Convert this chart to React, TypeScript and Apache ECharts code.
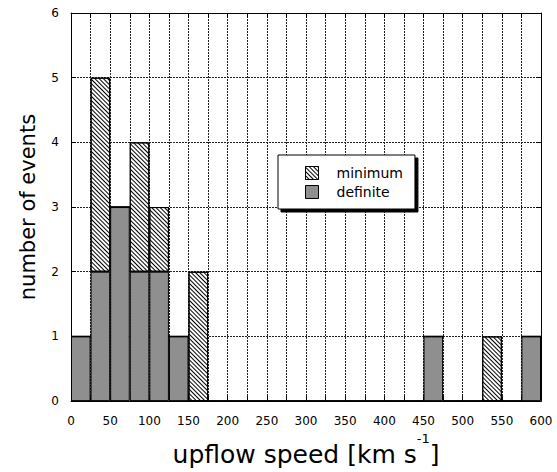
import React, { useEffect, useRef } from "react";
import * as echarts from "echarts";

// bins of 25 km/s, lower edges
const binStarts = [0, 25, 50, 75, 100, 125, 150, 175, 200, 225, 250, 275, 300, 325, 350, 375, 400, 425, 450, 475, 500, 525, 550, 575];
// definite events per bin
const definite = [1, 2, 3, 2, 2, 1, 0, 0, 0, 0, 0, 0, 0, 0, 0, 0, 0, 0, 1, 0, 0, 0, 0, 1];
// additional "minimum" events stacked on top of definite
const minimumExtra = [0, 3, 0, 2, 1, 0, 2, 0, 0, 0, 0, 0, 0, 0, 0, 0, 0, 0, 0, 0, 0, 1, 0, 0];
const seriesNames = ["minimum", "definite"];
const xRange = [0, 600];
const yRange = [0, 6];

const FONT = "DejaVu Sans";

export default function App() {
  const ref = useRef<HTMLDivElement>(null);
  useEffect(() => {
    if (!ref.current) return;
    const chart = echarts.init(ref.current, null, { renderer: "svg" });
    const gridLine = { show: true, lineStyle: { color: "#222", width: 1, type: [2, 1] as any } };
    const axisLine = { show: true, onZero: false, lineStyle: { color: "#000", width: 1 } };
    const tick = { show: true, inside: true, length: 5, lineStyle: { color: "#000" } };
    const minorTick = { show: true, splitNumber: 2, length: 5, lineStyle: { color: "#000" } };
    const option: any = {
      animation: false,
      backgroundColor: "#fff",
      grid: { left: 71, right: 16, top: 13, bottom: 64, containLabel: false },
      legend: {
        orient: "vertical",
        left: 278,
        top: 155,
        data: seriesNames,
        icon: "rect",
        itemWidth: 13,
        itemHeight: 13,
        itemGap: 5,
        padding: [11, 12, 10, 27],
        backgroundColor: "#fff",
        borderColor: "#000",
        borderWidth: 1,
        shadowColor: "#000",
        shadowBlur: 0,
        shadowOffsetX: 3,
        shadowOffsetY: 3,
        selectedMode: false,
        itemStyle: { borderColor: "#000", borderWidth: 1 },
        textStyle: { fontSize: 14, color: "#000", fontFamily: FONT, padding: [0, 0, 0, 13] },
      },
      xAxis: [
        {
          type: "value",
          min: xRange[0],
          max: xRange[1],
          interval: 50,
          position: "bottom",
          axisLine,
          axisTick: tick,
          minorTick,
          splitLine: gridLine,
          minorSplitLine: gridLine,
          axisLabel: { fontSize: 12, color: "#000", fontFamily: FONT, margin: 14 },
          name: "{n|upflow speed [km s}{s|-1}{n|]}",
          nameLocation: "middle",
          nameGap: 26,
          nameTextStyle: {
            rich: {
              n: { fontSize: 25, lineHeight: 35, fontFamily: FONT, color: "#000", verticalAlign: "bottom" },
              s: { fontSize: 13, lineHeight: 13, fontFamily: FONT, color: "#000", verticalAlign: "top" },
            },
          },
        },
        {
          type: "category",
          data: binStarts.map(String),
          show: false,
          position: "bottom",
        },
        {
          type: "value",
          min: xRange[0],
          max: xRange[1],
          interval: 50,
          position: "top",
          axisLine,
          axisTick: tick,
          minorTick,
          splitLine: { show: false },
          axisLabel: { show: false },
        },
      ],
      yAxis: [
        {
          type: "value",
          min: yRange[0],
          max: yRange[1],
          interval: 1,
          position: "left",
          axisLine,
          axisTick: tick,
          splitLine: gridLine,
          axisLabel: { fontSize: 12, color: "#000", fontFamily: FONT, margin: 12 },
          name: "number of events",
          nameLocation: "middle",
          nameGap: 33,
          nameTextStyle: { fontSize: 21, fontFamily: FONT, color: "#000" },
        },
        {
          type: "value",
          min: yRange[0],
          max: yRange[1],
          interval: 1,
          position: "right",
          axisLine,
          axisTick: tick,
          splitLine: { show: false },
          axisLabel: { show: false },
        },
      ],
      series: [
        {
          name: "definite",
          type: "bar",
          xAxisIndex: 1,
          yAxisIndex: 0,
          stack: "events",
          data: definite,
          barCategoryGap: "0%",
          barGap: "0%",
          itemStyle: { color: "#8f8f8f", borderColor: "#000", borderWidth: 1 },
        },
        {
          name: "minimum",
          type: "bar",
          xAxisIndex: 1,
          yAxisIndex: 0,
          stack: "events",
          data: minimumExtra,
          barCategoryGap: "0%",
          barGap: "0%",
          itemStyle: {
            color: "#fff",
            borderColor: "#000",
            borderWidth: 1,
            decal: {
              symbol: "rect",
              symbolSize: 1,
              color: "#000",
              dashArrayX: [1, 0],
              dashArrayY: [1, 2],
              rotation: Math.PI / 4,
            },
          },
        },
      ],
    };
    chart.setOption(option);
    return () => chart.dispose();
  }, []);
  return <div ref={ref} style={{ position: "absolute", left: 0, top: 0, width: 557, height: 472 }} />;
}
